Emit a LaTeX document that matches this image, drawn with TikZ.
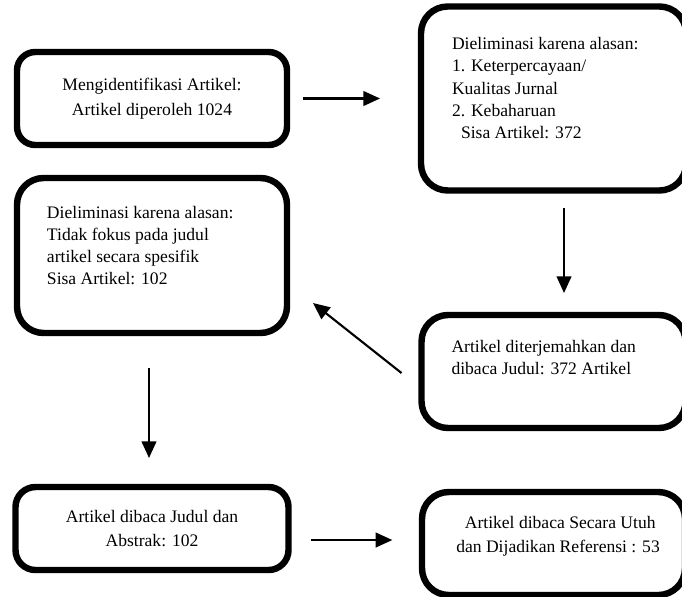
\documentclass[tikz,border=0pt]{standalone}
\usepackage{fontspec}
\setmainfont{Liberation Serif}
\usetikzlibrary{calc,positioning,arrows.meta}
\tikzset{box/.style={draw, line width=5.5pt, rounded corners=0.8cm, align=center, inner sep=0pt, outer sep=0pt,
        font=\fontsize{15}{21}\selectfont}}
\tikzset{topbox/.style={box, font=\fontsize{15}{19}\selectfont}}
\tikzstyle{arrow} = [-{Triangle[length=0.5cm,width=0.44cm]}, line width=1.8pt]

\begin{document}
\begin{tikzpicture}[x=0.03cm, y=-0.03cm]
    \clip (0,0) rectangle (682,597);

    \node [box, rounded corners=0.55cm, minimum width=8.1cm, minimum height=2.79cm] (idf) at (152,98.5) {Mengidentifikasi Artikel:\\Artikel diperoleh 1024};
    \node [topbox, right=4.02cm of idf, minimum width=7.95cm, minimum height=5.52cm] (elimA) {\parbox[c][3.66cm][t]{6.09cm}{\raggedright
        Dieliminasi karena alasan:\\1. Keterpercayaan/\\Kualitas Jurnal\\2. Kebaharuan\\\hspace*{0.27cm}Sisa Artikel: 372}};
    \node [topbox, below=0.99cm of idf, minimum width=8.1cm, minimum height=4.65cm] (elimB) {\parbox[c][2.97cm][t]{6.3cm}{\raggedright
        Dieliminasi karena alasan:\\Tidak fokus pada judul\\artikel secara spesifik\\Sisa Artikel: 102}};
    \node [topbox, below=3.735cm of elimA, minimum width=7.92cm, minimum height=3.39cm] (terj) {\parbox[c][1.89cm][t]{6.12cm}{\raggedright
        Artikel diterjemahkan dan\\dibaca Judul: 372 Artikel}};
    \node [box, rounded corners=0.6cm, below=4.62cm of elimB, minimum width=8.19cm, minimum height=2.49cm] (abs) {Artikel dibaca Judul dan\\Abstrak: 102};
    \node [box, below=1.92cm of terj, minimum width=7.89cm, minimum height=3.09cm] (utuh) {\parbox[c][1.65cm][t]{6.6cm}{\centering\hspace*{0.27cm}
        Artikel dibaca Secara Utuh\\\hspace*{0.27cm}dan Dijadikan Referensi : 53}};

    \draw [arrow, shorten <=0.48cm, shorten >=1.23cm] (idf.east) -- (idf.east -| elimA.west);
    \draw [arrow, shorten <=0.525cm, shorten >=0.66cm] ([xshift=0.315cm]elimA.south) -- ([xshift=0.315cm]elimA.south |- terj.north);
    \draw [arrow] ($(terj.west)+(-20,1.5)$) -- ($(elimB.east)+(26,47.5)$);
    \draw [arrow, shorten <=1.05cm, shorten >=0.87cm] ([xshift=-0.09cm]elimB.south) -- ([xshift=-0.09cm]elimB.south |- abs.north);
    \draw [arrow, shorten <=0.66cm, shorten >=0.89cm] ([yshift=-0.345cm]abs.east) -- ([yshift=-0.345cm]abs.east -| utuh.west);
\end{tikzpicture}
\end{document}
